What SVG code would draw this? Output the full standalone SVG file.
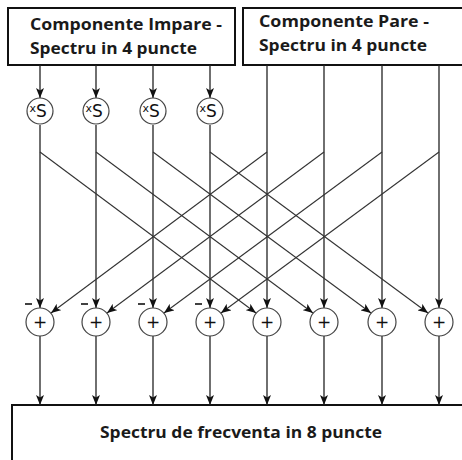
<svg xmlns="http://www.w3.org/2000/svg" width="462" height="460" viewBox="0 0 462 460">
<defs>
<marker id="ah" viewBox="0 0 10 8" refX="10" refY="4" markerWidth="10" markerHeight="8" markerUnits="userSpaceOnUse" orient="auto">
<path d="M0,0 L10,4 L0,8 L2.5,4 Z" fill="#111"/>
</marker>
</defs>
<style>
.box{fill:#fff;stroke:#111;stroke-width:2}
.lbl{font-family:"Open Sans","DejaVu Sans",sans-serif;font-weight:700;font-size:15.5px;fill:#1a1a1a}
.c{fill:#fff;stroke:#444;stroke-width:1.2}
.ln{stroke:#222;stroke-width:1.3;fill:none}
.ar{stroke:#222;stroke-width:1.3;fill:none;marker-end:url(#ah)}
.dg{stroke:#333;stroke-width:1.1;fill:none;marker-end:url(#ah)}
.op{font-family:"DejaVu Sans",sans-serif;fill:#111}
.mn{stroke:#111;stroke-width:1.6}
</style>
<rect width="462" height="460" fill="#fff"/>
<g id="odd-box">
<rect class="box" x="8" y="8" width="227" height="57"/>
<text class="lbl" x="30" y="30" textLength="192" lengthAdjust="spacingAndGlyphs">Componente Impare -</text>
<text class="lbl" x="30" y="54" textLength="167" lengthAdjust="spacingAndGlyphs">Spectru in 4 puncte</text>
</g>
<g id="even-box">
<rect class="box" x="243" y="8" width="225" height="57"/>
<text class="lbl" x="259" y="27" textLength="170" lengthAdjust="spacingAndGlyphs">Componente Pare -</text>
<text class="lbl" x="259" y="51" textLength="168" lengthAdjust="spacingAndGlyphs">Spectru in 4 puncte</text>
</g>
<g id="out-box">
<rect class="box" x="12" y="405" width="460" height="70"/>
<text class="lbl" x="100" y="438" textLength="282" lengthAdjust="spacingAndGlyphs">Spectru de frecventa in 8 puncte</text>
</g>
<g id="connectors">
<line class="ar" x1="40" y1="65" x2="40" y2="98"/>
<line class="ar" x1="96" y1="65" x2="96" y2="98"/>
<line class="ar" x1="153" y1="65" x2="153" y2="98"/>
<line class="ar" x1="210" y1="65" x2="210" y2="98"/>
<line class="ar" x1="40" y1="125" x2="40" y2="308"/>
<line class="ar" x1="96" y1="125" x2="96" y2="308"/>
<line class="ar" x1="153" y1="125" x2="153" y2="308"/>
<line class="ar" x1="210" y1="125" x2="210" y2="308"/>
<line class="ar" x1="267" y1="65" x2="267" y2="308"/>
<line class="ar" x1="324" y1="65" x2="324" y2="308"/>
<line class="ar" x1="382" y1="65" x2="382" y2="308"/>
<line class="ar" x1="439" y1="65" x2="439" y2="308"/>
<line class="dg" x1="40" y1="152" x2="256" y2="313"/>
<line class="dg" x1="96" y1="152" x2="313" y2="313"/>
<line class="dg" x1="153" y1="152" x2="371" y2="313"/>
<line class="dg" x1="210" y1="152" x2="428" y2="313"/>
<line class="dg" x1="267" y1="152" x2="51" y2="313"/>
<line class="dg" x1="324" y1="152" x2="107" y2="313"/>
<line class="dg" x1="382" y1="152" x2="164" y2="313"/>
<line class="dg" x1="439" y1="152" x2="221" y2="313"/>
<line class="ar" x1="40" y1="336" x2="40" y2="405"/>
<line class="ar" x1="96" y1="336" x2="96" y2="405"/>
<line class="ar" x1="153" y1="336" x2="153" y2="405"/>
<line class="ar" x1="210" y1="336" x2="210" y2="405"/>
<line class="ar" x1="267" y1="336" x2="267" y2="405"/>
<line class="ar" x1="324" y1="336" x2="324" y2="405"/>
<line class="ar" x1="382" y1="336" x2="382" y2="405"/>
<line class="ar" x1="439" y1="336" x2="439" y2="405"/>
</g>
<g id="mul0"><circle class="c" cx="40" cy="111" r="13"/><text class="op" x="29.5" y="112" font-size="11">x</text><text class="op" x="36" y="117" font-size="17">S</text></g>
<g id="mul1"><circle class="c" cx="96" cy="111" r="13"/><text class="op" x="85.5" y="112" font-size="11">x</text><text class="op" x="92" y="117" font-size="17">S</text></g>
<g id="mul2"><circle class="c" cx="153" cy="111" r="13"/><text class="op" x="142.5" y="112" font-size="11">x</text><text class="op" x="149" y="117" font-size="17">S</text></g>
<g id="mul3"><circle class="c" cx="210" cy="111" r="13"/><text class="op" x="199.5" y="112" font-size="11">x</text><text class="op" x="206" y="117" font-size="17">S</text></g>
<g id="add0"><circle class="c" cx="40" cy="322" r="14"/><text class="op" x="40" y="328" font-size="17" text-anchor="middle">+</text><line class="mn" x1="25" y1="304" x2="32" y2="304"/></g>
<g id="add1"><circle class="c" cx="96" cy="322" r="14"/><text class="op" x="96" y="328" font-size="17" text-anchor="middle">+</text><line class="mn" x1="81" y1="304" x2="88" y2="304"/></g>
<g id="add2"><circle class="c" cx="153" cy="322" r="14"/><text class="op" x="153" y="328" font-size="17" text-anchor="middle">+</text><line class="mn" x1="138" y1="304" x2="145" y2="304"/></g>
<g id="add3"><circle class="c" cx="210" cy="322" r="14"/><text class="op" x="210" y="328" font-size="17" text-anchor="middle">+</text><line class="mn" x1="195" y1="304" x2="202" y2="304"/></g>
<g id="add4"><circle class="c" cx="267" cy="322" r="14"/><text class="op" x="267" y="328" font-size="17" text-anchor="middle">+</text></g>
<g id="add5"><circle class="c" cx="324" cy="322" r="14"/><text class="op" x="324" y="328" font-size="17" text-anchor="middle">+</text></g>
<g id="add6"><circle class="c" cx="382" cy="322" r="14"/><text class="op" x="382" y="328" font-size="17" text-anchor="middle">+</text></g>
<g id="add7"><circle class="c" cx="439" cy="322" r="14"/><text class="op" x="439" y="328" font-size="17" text-anchor="middle">+</text></g>
</svg>
